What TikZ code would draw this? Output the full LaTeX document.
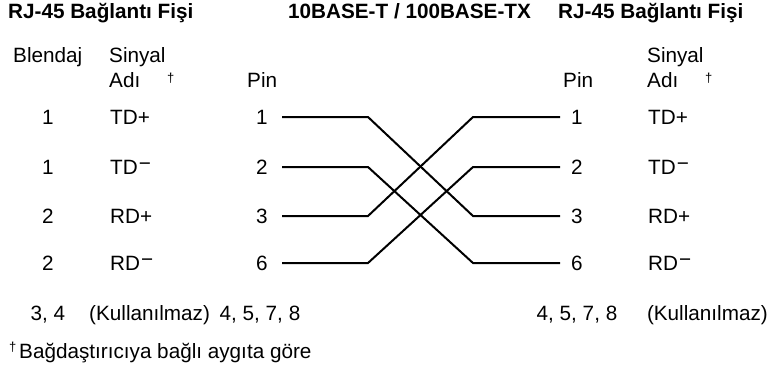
\documentclass[tikz,border=0pt]{standalone}
\usepackage{fontspec}
\setmainfont{Liberation Sans}
\newcommand{\bodyf}{\fontsize{20.7}{24}\selectfont}
\newcommand{\titlef}{\fontsize{20.7}{24}\selectfont\bfseries}
\newcommand{\daggerf}{\fontsize{13}{15}\selectfont}
\newcommand{\mns}{\hspace{1pt}\raisebox{4pt}{−}}
\begin{document}
\begin{tikzpicture}[x=1pt,y=-1pt,
  txt/.style={inner sep=0pt, font=\bodyf},
  ttl/.style={inner sep=0pt, font=\titlef, anchor=base west},
  dag/.style={inner sep=0pt, font=\daggerf, anchor=base west},
  wire/.style={line width=2pt, line join=miter}]
\useasboundingbox (0,0) rectangle (769,372);
% titles
\node[ttl] (tl) at (8,19) {RJ-45 Bağlantı Fişi};
\node[ttl] (tc) at (288,19) {10BASE-T / 100BASE-TX};
\node[ttl] (tr) at (558,19) {RJ-45 Bağlantı Fişi};
% headers
\node[txt, anchor=base west] (hbl) at (13,62) {Blendaj};
\node[txt, anchor=base west] (hsl) at (109,62) {Sinyal};
\node[txt, anchor=base west] (hal) at (109,87) {Adı};
\node[dag] (hdl) at (167,82) {†};
\node[txt, anchor=base west] (hpl) at (247,87) {Pin};
\node[txt, anchor=base west] (hpr) at (563,87) {Pin};
\node[txt, anchor=base west] (hsr) at (647,62) {Sinyal};
\node[txt, anchor=base west] (har) at (647,87) {Adı};
\node[dag] (hdr) at (705,82) {†};
% rows
\foreach \n/\y/\b/\s/\rs/\pl in {1/117/1/TD+/TD+/1, 2/167/1/TD\mns/TD\mns/2, 3/216/2/RD+/RD+/3, 6/263/2/RD\mns/RD\mns/6}{
  \node[txt, anchor=base] (bl\n) at (48,\y+7.5) {\b};
  \node[txt, anchor=base west] (sl\n) at (110,\y+7.5) {\s};
  \node[txt, anchor=base] (pl\n) at (262,\y+7.5) {\n};
  \node[txt, anchor=base] (pr\pl) at (577,\y+7.5) {\pl};
  \node[txt, anchor=base west] (sr\n) at (648,\y+7.5) {\rs};
  \coordinate (L\n) at (282,\y);
  \coordinate (R\n) at (560,\y);
}
% wires
\draw[wire] (L1) -- ++(86,0) -- ([xshift=-87pt]R3) -- (R3);
\draw[wire] (L2) -- ++(86,0) -- ([xshift=-87pt]R6) -- (R6);
\draw[wire] (L3) -- ++(86,0) -- ([xshift=-87pt]R1) -- (R1);
\draw[wire] (L6) -- ++(86,0) -- ([xshift=-87pt]R2) -- (R2);
% bottom row
\node[txt, anchor=base] (u1) at (48,320) {3, 4};
\node[txt, anchor=base west] (u2) at (89,320) {(Kullanılmaz)};
\node[txt, anchor=base] (u3) at (260,320) {4, 5, 7, 8};
\node[txt, anchor=base] (u4) at (577,320) {4, 5, 7, 8};
\node[txt, anchor=base east] (u5) at (768,320) {(Kullanılmaz)};
% footer
\node[dag] (fd) at (9,351) {†};
\node[txt, anchor=base west] (ft) at (19,358) {Bağdaştırıcıya bağlı aygıta göre};
\end{tikzpicture}
\end{document}
